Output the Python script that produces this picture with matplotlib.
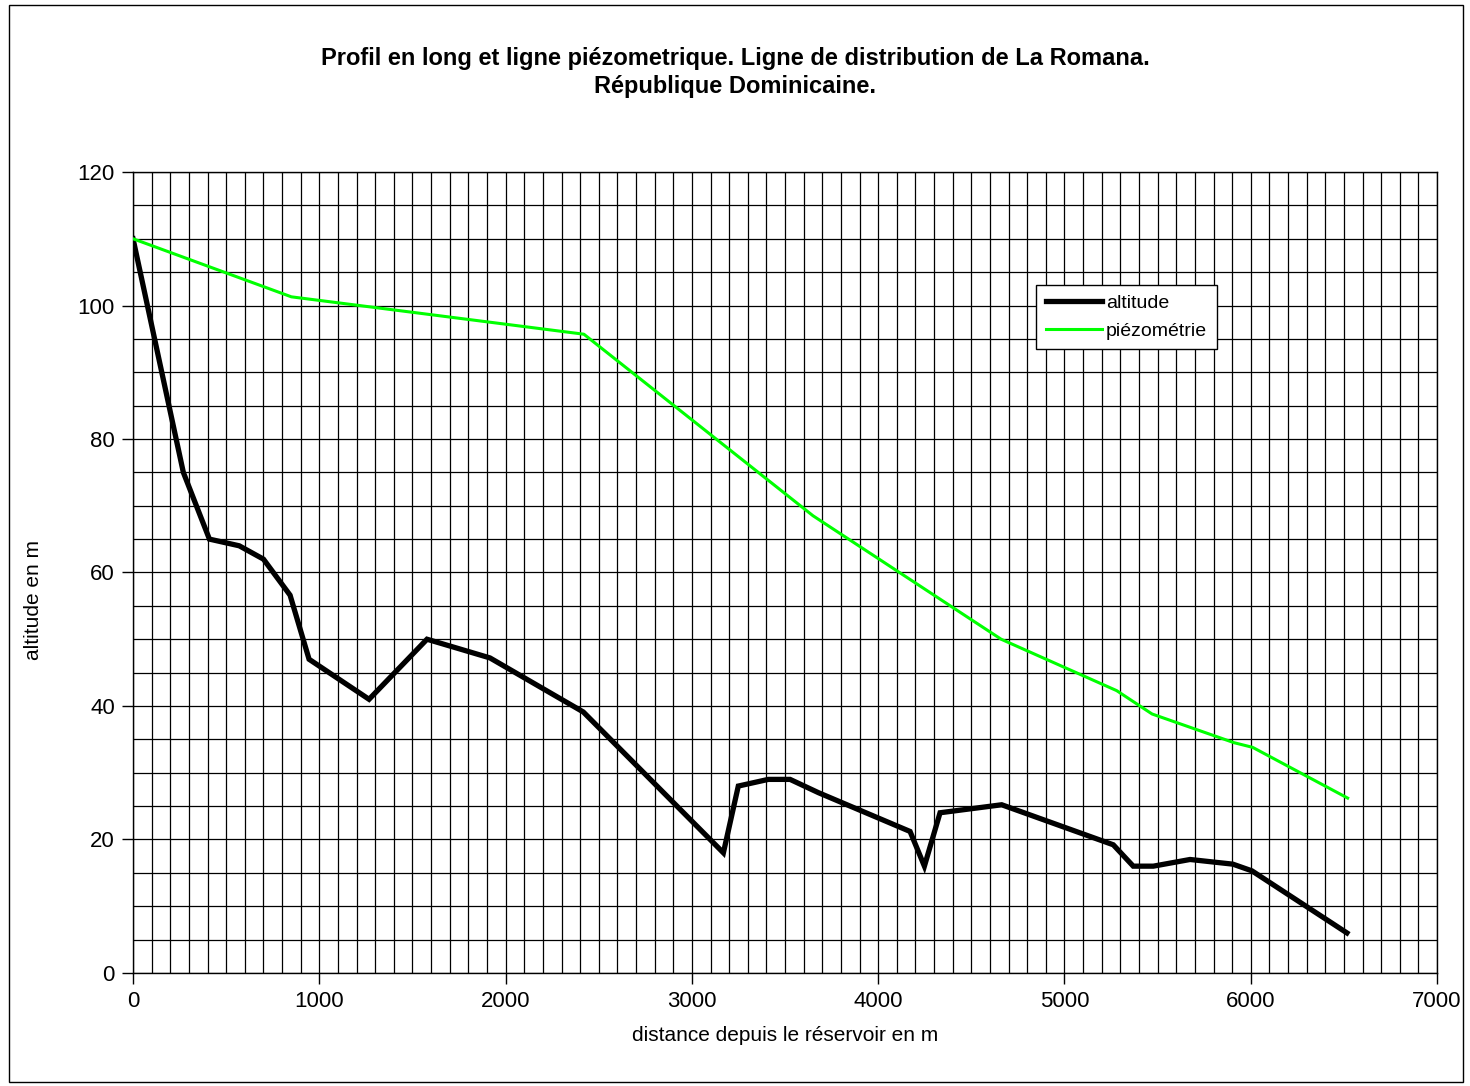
import matplotlib
matplotlib.use('Agg')
import matplotlib.pyplot as plt
from matplotlib.ticker import MultipleLocator
from matplotlib.patches import Rectangle

plt.rcParams['font.family'] = ['Liberation Sans', 'DejaVu Sans']

# Profil en long (altitude du terrain)
dist_alt = [0, 270, 410, 570, 700, 843, 945, 1267, 1578, 1916, 2417, 3169, 3249,
            3410, 3527, 3680, 4171, 4248, 4332, 4663, 5262, 5369, 5477, 5674,
            5904, 6006, 6516]
altitude = [110, 75, 65, 64, 62, 56.6, 47, 41, 50, 47.2, 39.1, 18, 28,
            29, 29, 27, 21.2, 16, 24, 25.2, 19.2, 16, 16, 17,
            16.3, 15.3, 6]

# Ligne piézométrique
dist_piezo = [0, 850, 2420, 3650, 4660, 5280, 5470, 5910, 6010, 6520]
piezo = [110, 101.3, 95.7, 68.5, 50, 42.3, 38.8, 34.5, 33.8, 26.2]

fig = plt.figure(figsize=(14.7, 10.86), dpi=100)
fig.patches.append(Rectangle((0.006, 0.004), 0.989, 0.991, transform=fig.transFigure,
                             fill=False, edgecolor='black', linewidth=1))

ax = fig.add_axes([0.0905, 0.1041, 0.8871, 0.7375])

ax.plot(dist_alt, altitude, color='black', linewidth=3.8, label='altitude',
        solid_joinstyle='miter', zorder=3)
ax.plot(dist_piezo, piezo, color='#00FF00', linewidth=2.2, label='piézométrie', zorder=3)

ax.set_xlim(0, 7000)
ax.set_ylim(0, 120)
ax.xaxis.set_major_locator(MultipleLocator(1000))
ax.xaxis.set_minor_locator(MultipleLocator(100))
ax.yaxis.set_major_locator(MultipleLocator(20))
ax.yaxis.set_minor_locator(MultipleLocator(5))
ax.grid(True, which='both', color='black', linewidth=0.9)
ax.set_axisbelow(True)
ax.tick_params(which='major', direction='out', length=8, width=1, labelsize=16, pad=5)
ax.tick_params(which='minor', length=0)
for s in ax.spines.values():
    s.set_linewidth(1)

ax.set_xlabel('distance depuis le réservoir en m', fontsize=15)
ax.set_ylabel('altitude en m', fontsize=15)
ax.xaxis.set_label_coords(0.5, -0.066)
ax.yaxis.set_label_coords(-0.069, 0.466)

fig.text(0.5, 0.933, 'Profil en long et ligne piézometrique. Ligne de distribution de La Romana.\n'
         'République Dominicaine.', ha='center', va='center', fontsize=17,
         fontweight='bold', linespacing=1.3)

leg = ax.legend(loc='upper left', bbox_to_anchor=(0.6925, 0.859), fontsize=14,
                frameon=True, fancybox=False, edgecolor='black', framealpha=1,
                handlelength=2.9, handletextpad=0.2, borderpad=0.5, labelspacing=0.5,
                borderaxespad=0)
leg.get_frame().set_linewidth(1)

fig.savefig('out.png', dpi=100)
